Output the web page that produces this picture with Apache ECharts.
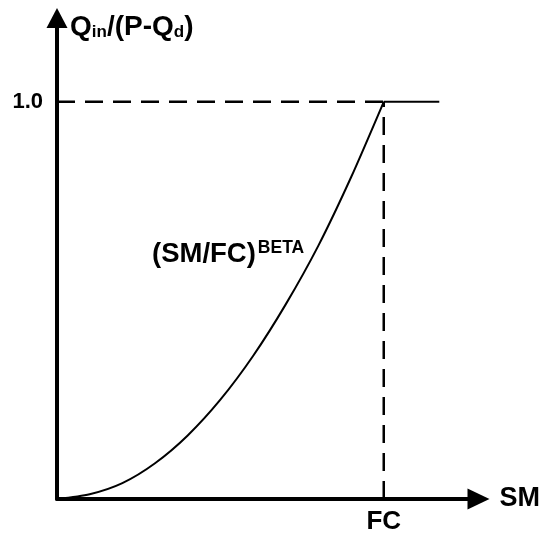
<!DOCTYPE html>
<html>
<head>
<meta charset="utf-8">
<script src="https://cdn.jsdelivr.net/npm/echarts@6/dist/echarts.min.js"></script>
<style>
  html, body { margin: 0; padding: 0; background: #fff; }
  #chart { width: 543px; height: 535px; }
</style>
</head>
<body>
<div id="chart"></div>
<script>
// Relative soil moisture SM/FC and the infiltration ratio Qin/(P-Qd)
const smValues = [0, 0.1, 0.2, 0.3, 0.4, 0.5, 0.6, 0.7, 0.8, 0.9, 1.0];
const ratioValues = [0, 0.012, 0.04, 0.09, 0.16, 0.25, 0.36, 0.49, 0.638, 0.81, 1.0];
const plateauSm = [1.0, 1.17];
const plateauRatio = [1.0, 1.0];
const fieldCapacity = 1.0;   // FC on the SM axis
const ratioMax = 1.0;        // 1.0 on the ratio axis
const xTickLabels = { 1: 'FC' };
const yTickLabels = { 1: '1.0' };

const FONT = '"Liberation Sans", Arial, sans-serif';
const INK = '#000';

const curve = smValues.map((x, i) => [x, ratioValues[i]]);
const plateau = plateauSm.map((x, i) => [x, plateauRatio[i]]);
const dash = [18, 10];

const chart = echarts.init(document.getElementById('chart'), null, { renderer: 'canvas' });
chart.setOption({
  backgroundColor: '#fff',
  animation: false,
  grid: { left: 57, top: 18, width: 424, height: 484, containLabel: false },
  xAxis: {
    type: 'value', min: 0, max: 1.29, interval: 1,
    name: 'SM', nameLocation: 'end', nameGap: 21,
    nameTextStyle: { fontFamily: FONT, fontWeight: 'bold', fontSize: 27, color: INK, verticalAlign: 'middle' },
    axisLine: { show: true, symbol: ['none', 'triangle'], symbolSize: [21, 22], lineStyle: { color: INK, width: 4 } },
    axisTick: { show: false },
    splitLine: { show: false },
    axisLabel: {
      show: true, margin: 10, fontFamily: FONT, fontWeight: 'bold', fontSize: 26, color: INK,
      showMinLabel: false, showMaxLabel: false,
      formatter: v => xTickLabels[v] || ''
    }
  },
  yAxis: {
    type: 'value', min: 0, max: 1.211, interval: 1,
    name: '{m|Q}{s|in}{m|/(P-Q}{s|d}{m|)}', nameLocation: 'end', nameGap: -9,
    nameTextStyle: {
      align: 'left', verticalAlign: 'middle', padding: [0, 0, 0, 13],
      rich: {
        m: { fontFamily: FONT, fontWeight: 'bold', fontSize: 28, color: INK },
        s: { fontFamily: FONT, fontWeight: 'bold', fontSize: 17, color: INK, verticalAlign: 'bottom', padding: [11, 0, 0, 0] }
      }
    },
    axisLine: { show: true, symbol: ['none', 'triangle'], symbolSize: [21, 20], lineStyle: { color: INK, width: 4 } },
    axisTick: { show: false },
    splitLine: { show: false },
    axisLabel: {
      show: true, margin: 14, fontFamily: FONT, fontWeight: 'bold', fontSize: 22, color: INK,
      showMinLabel: false,
      formatter: v => yTickLabels[v] || ''
    }
  },
  series: [
    {
      name: 'ratio', type: 'line', data: curve, showSymbol: false, symbol: 'none',
      smooth: 0.25,
      lineStyle: { color: INK, width: 2 }, z: 3
    },
    {
      name: 'plateau', type: 'line', data: plateau, showSymbol: false, symbol: 'none',
      lineStyle: { color: INK, width: 2 }, z: 3
    },
    {
      name: 'ratio max', type: 'line', data: [[0, ratioMax], [fieldCapacity, ratioMax]],
      showSymbol: false, symbol: 'none', lineStyle: { color: INK, width: 2.5, type: dash }, z: 2
    },
    {
      name: 'field capacity', type: 'line', data: [[fieldCapacity, 0], [fieldCapacity, ratioMax]],
      showSymbol: false, symbol: 'none', lineStyle: { color: INK, width: 2.5, type: dash }, z: 2
    }
  ],
  graphic: [
    {
      type: 'text', left: 152, top: 239, z: 10,
      style: {
        text: '{m|(SM/FC)}{b|BETA}',
        rich: {
          m: { fontFamily: FONT, fontWeight: 'bold', fontSize: 27.5, fill: INK },
          b: { fontFamily: FONT, fontWeight: 'bold', fontSize: 17.5, fill: INK, verticalAlign: 'top', padding: [0, 0, 12, 2] }
        }
      }
    }
  ]
});
</script>
</body>
</html>
